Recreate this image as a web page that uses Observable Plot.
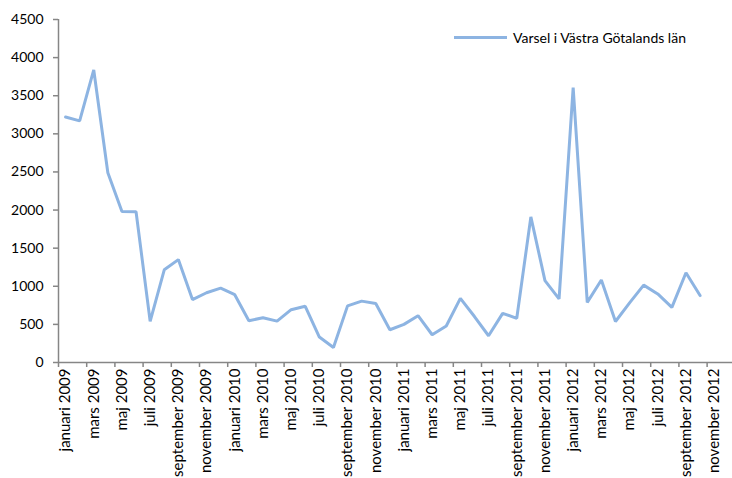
<!DOCTYPE html>
<html>
<head>
<meta charset="utf-8">
<script src="https://cdn.jsdelivr.net/npm/d3@7"></script>
<script src="https://cdn.jsdelivr.net/npm/@observablehq/plot@0.6"></script>
<style>
  html, body { margin: 0; padding: 0; background: #fff; }
  #wrap { position: relative; width: 732px; height: 478px; font-family: Lato, "Open Sans", sans-serif; }
  #legend { position: absolute; left: 454px; top: 29px; display: flex; align-items: center; font-size: 14px; color: #000; }
  #legend .sw { width: 53px; height: 3px; background: #8DB4E2; margin-right: 6px; }
</style>
</head>
<body>
<div id="wrap">
  <div id="legend"><span class="sw"></span><span>Varsel i Västra Götalands län</span></div>
</div>
<script>
const monthNames = ["januari","februari","mars","april","maj","juni","juli","augusti","september","oktober","november","december"];
const years = [2009, 2010, 2011, 2012];
const seriesName = "Varsel i Västra Götalands län";
const values = [
  3220, 3170, 3838, 2490, 1982, 1978, 540, 1216, 1350, 825, 915, 975,
  890, 548, 588, 543, 693, 737, 334, 197, 743, 805, 774, 430,
  500, 614, 364, 479, 842, 603, 351, 645, 580, 1910, 1075, 834,
  3605, 789, 1082, 538, 782, 1015, 900, 724, 1178, 878
];
const yTicks = [0, 500, 1000, 1500, 2000, 2500, 3000, 3500, 4000, 4500];

const categories = years.flatMap(y => monthNames.map(m => `${m} ${y}`));
const data = values.map((v, i) => ({i, x: i + 0.5, v, label: categories[i]}));
const boundaryTicks = d3.range(0, categories.length, 2);
const labelTicks = boundaryTicks.map(b => b + 0.5);

const axisGray = "#868686";
const chart = Plot.plot({
  width: 732,
  height: 478,
  marginLeft: 58,
  marginRight: 0,
  marginTop: 19,
  marginBottom: 116,
  style: {fontFamily: "Lato, 'Open Sans', sans-serif", fontSize: "14px", color: "#000", background: "transparent"},
  x: {type: "linear", domain: [0, 47.8], axis: null, label: null},
  y: {domain: [0, 4500], axis: null, label: null},
  marks: [
    Plot.ruleY([0], {stroke: axisGray, strokeWidth: 1.5}),
    Plot.ruleX([0], {y1: 0, y2: 4500, stroke: axisGray, strokeWidth: 1.5}),
    Plot.axisY({ticks: yTicks, tickSize: 5, tickPadding: 10, tickFormat: d => String(d), label: null, stroke: axisGray, strokeWidth: 1.5, fill: "#000", fontSize: 14}),
    Plot.axisX({ticks: boundaryTicks, tickSize: 5, tickFormat: () => "", label: null, stroke: axisGray, strokeWidth: 1.5}),
    Plot.axisX({ticks: labelTicks, tickSize: 0, tickPadding: 6, tickRotate: -90, tickFormat: d => categories[Math.round(d - 0.5)], label: null, fill: "#000", fontSize: 15}),
    Plot.line(data, {x: "x", y: "v", stroke: "#8DB4E2", strokeWidth: 3, strokeLinejoin: "miter"})
  ]
});
document.getElementById("wrap").prepend(chart);
chart.style.position = "absolute";
chart.style.left = "0";
chart.style.top = "0";
</script>
</body>
</html>
